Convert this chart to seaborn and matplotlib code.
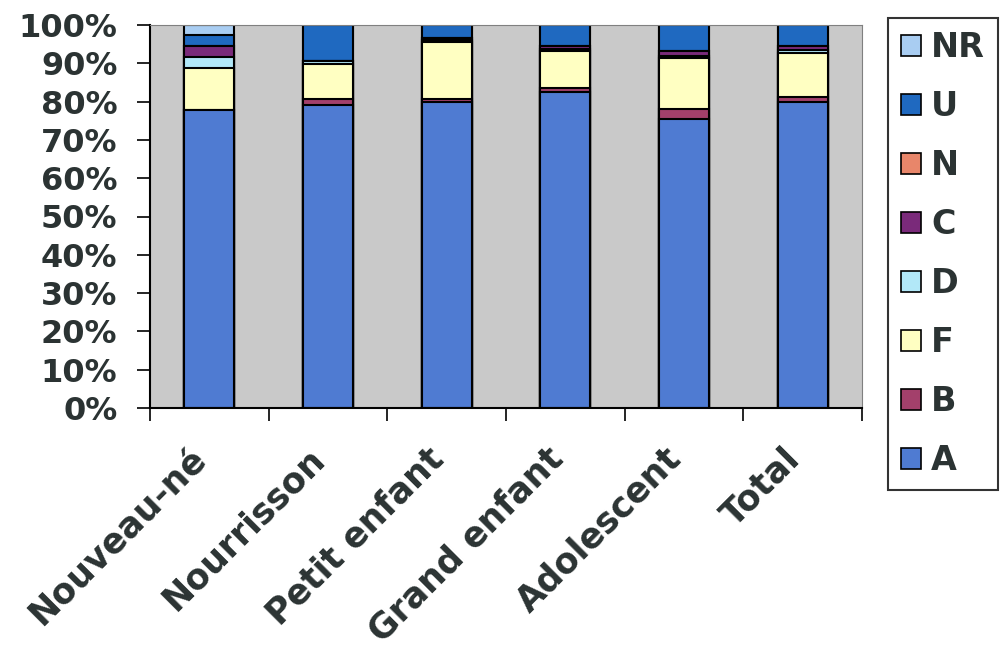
import numpy as np
import pandas as pd
import matplotlib
matplotlib.use('Agg')
from matplotlib import pyplot as plt
from matplotlib.patches import Patch
from matplotlib.ticker import FixedLocator, PercentFormatter
from matplotlib.transforms import ScaledTranslation
import seaborn as sns

# data (percent of each age group)
groups = ['Nouveau-né', 'Nourrisson', 'Petit enfant', 'Grand enfant', 'Adolescent', 'Total']
A = [77.8, 79.0, 80.0, 82.5, 75.5, 80.0]
B = [0.0, 1.6, 0.8, 1.0, 2.5, 1.2]
F = [11.0, 9.3, 14.8, 9.8, 13.5, 11.6]
D = [2.8, 0.8, 0.5, 0.5, 0.5, 0.6]
C = [2.9, 0.0, 0.5, 0.7, 1.2, 1.0]
N = [0.0, 0.0, 0.0, 0.0, 0.0, 0.0]
U = [2.9, 9.3, 3.4, 5.5, 6.8, 5.6]
NR = [2.6, 0.0, 0.0, 0.0, 0.0, 0.0]

series = ['A', 'B', 'F', 'D', 'C', 'N', 'U', 'NR']
colors = ['#4f7bd2', '#a3406b', '#ffffc2', '#b2e8f8', '#7a2a7a', '#e8866a', '#1f69c0', '#a9cdf2']

df = pd.DataFrame({'A': A, 'B': B, 'F': F, 'D': D, 'C': C, 'N': N, 'U': U, 'NR': NR}, index=groups)
cum = df[series].cumsum(axis=1)

plt.rcParams['font.family'] = ['DejaVu Sans']
plt.rcParams['font.weight'] = 'bold'
text_col = '#2b3333'

fig = plt.figure(figsize=(10.08, 6.56), dpi=100)
ax = fig.add_axes([150 / 1008, 1 - 408 / 656, 712 / 1008, 383 / 656])
ax.set_facecolor('#c9c9c9')

# draw cumulative stacks from the top series down so each layer covers the one above
for name, col in reversed(list(zip(series, colors))):
    sns.barplot(x=groups, y=cum[name].values, color=col, edgecolor='black',
                linewidth=1.5, width=0.42, ax=ax, saturation=1)

ax.set_ylim(0, 100)
ax.set_xlim(-0.5, len(groups) - 0.5)
ax.set_yticks(np.arange(0, 101, 10))
ax.yaxis.set_major_formatter(PercentFormatter(decimals=0))
ax.tick_params(axis='y', labelsize=23, length=9.5, width=1.2, colors='black', labelcolor=text_col, pad=14)
ax.tick_params(axis='x', which='major', length=0, labelsize=25, labelcolor=text_col, pad=24)
ax.xaxis.set_minor_locator(FixedLocator(np.arange(-0.5, len(groups), 1)))
ax.tick_params(axis='x', which='minor', length=9, width=1.2)
ax.set_xticks(range(len(groups)))
ax.set_xticklabels(groups, rotation=45, ha='right', rotation_mode='anchor', fontweight='bold')
shift = ScaledTranslation(-0.2, 0, fig.dpi_scale_trans)
for lab in ax.get_xticklabels():
    lab.set_transform(lab.get_transform() + shift)
for lab in ax.get_yticklabels():
    lab.set_fontweight('bold')
ax.set_xlabel('')
ax.set_ylabel('')
for side in ['top', 'right']:
    ax.spines[side].set_color('#808080')
for side in ['left', 'bottom']:
    ax.spines[side].set_color('black')
    ax.spines[side].set_linewidth(1.5)

handles = [Patch(facecolor=c, edgecolor='black', linewidth=1.2, label=s)
           for s, c in zip(series, colors)][::-1]
leg = fig.legend(handles=handles, loc='upper left', bbox_to_anchor=(888 / 1008, 1 - 18 / 656),
                 frameon=True, fancybox=False, edgecolor='black', fontsize=24,
                 handlelength=0.6, handleheight=0.6, handletextpad=0.3,
                 labelspacing=0.78, borderpad=0.39, borderaxespad=0)
leg.get_frame().set_linewidth(1.5)
for t in leg.get_texts():
    t.set_color(text_col)
    t.set_fontweight('bold')

fig.savefig('out.png', dpi=100)
